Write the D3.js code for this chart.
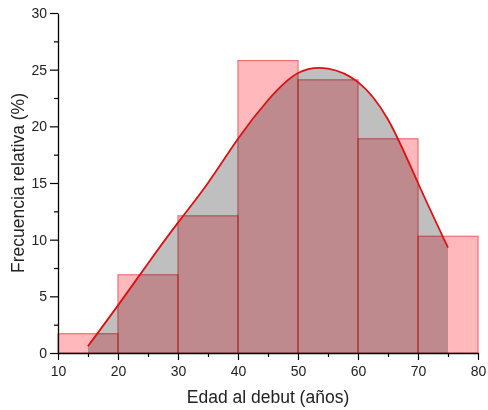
<!DOCTYPE html>
<html>
<head>
    <meta charset="utf-8">
    <style>
        body { margin: 0; background: #fff; }
        svg { display: block; font-family: "Liberation Sans", Arial, sans-serif; }
        .axis .domain { stroke: #000; stroke-width: 1.3px; }
        .axis .tick line { stroke: #000; stroke-width: 1.2px; }
        .axis .tick text { font-size: 14px; fill: #222; }
        .axis-title { font-size: 17.5px; fill: #222; }
    </style>
</head>
<body>
<svg width="488" height="410"></svg>

<script src="https://d3js.org/d3.v7.min.js"></script>
<script>
    // histogram bins (age at onset, years) and relative frequency (%)
    let binStart = [10, 20, 30, 40, 50, 60, 70]
    let binEnd = [20, 30, 40, 50, 60, 70, 80]
    let freq = [1.7, 6.9, 12.1, 25.8, 24.1, 18.9, 10.3]

    // fitted curve
    let curveX = [15, 20, 25, 30, 35, 40, 45, 50, 55, 60, 65, 70, 75]
    let curveY = [0.6, 4.2, 7.9, 11.5, 15.0, 18.9, 22.3, 24.7, 25.1, 23.9, 20.6, 15.0, 9.3]

    let xTicks = [10, 20, 30, 40, 50, 60, 70, 80]
    let yTicks = [0, 5, 10, 15, 20, 25, 30]

    let margin = { top: 13, right: 10, bottom: 57, left: 58 }
    let width = 488, height = 410

    let svg = d3.select("svg")

    let x = d3.scaleLinear()
        .domain([10, 80])
        .range([margin.left, width - margin.right])

    let y = d3.scaleLinear()
        .domain([0, 30])
        .range([height - margin.bottom, margin.top])

    let bins = freq.map((v, i) => ({ x0: binStart[i], x1: binEnd[i], v: v }))
    let pts = curveX.map((d, i) => ({ x: d, y: curveY[i] }))

    // grey area under the curve
    let area = d3.area()
        .x(d => x(d.x))
        .y0(y(0))
        .y1(d => y(d.y))
        .curve(d3.curveNatural)

    svg.append("path")
        .datum(pts)
        .attr("fill", "#bfbfbf")
        .attr("d", area)

    // bars, blended over the grey
    svg.append("g")
        .attr("class", "bars")
        .selectAll("rect")
        .data(bins)
        .join("rect")
        .attr("x", d => x(d.x0))
        .attr("y", d => y(d.v))
        .attr("width", d => x(d.x1) - x(d.x0))
        .attr("height", d => y(0) - y(d.v))
        .attr("fill", "#ffb8bc")
        .attr("stroke", "#ee7075")
        .attr("stroke-width", 1.2)
        .style("mix-blend-mode", "multiply")

    let line = d3.line()
        .x(d => x(d.x))
        .y(d => y(d.y))
        .curve(d3.curveNatural)

    svg.append("path")
        .datum(pts)
        .attr("fill", "none")
        .attr("stroke", "#e01010")
        .attr("stroke-width", 1.8)
        .attr("d", line)

    // axes: minor ticks first, then major with labels
    let xMinor = d3.range(15, 80, 10)
    let yMinor = d3.range(2.5, 30, 5)

    svg.append("g")
        .attr("class", "axis")
        .attr("transform", `translate(0,${y(0)})`)
        .call(d3.axisBottom(x).tickValues(xMinor).tickSize(4).tickFormat(""))
        .call(g => g.select(".domain").remove())

    svg.append("g")
        .attr("class", "axis")
        .attr("transform", `translate(0,${y(0)})`)
        .call(d3.axisBottom(x).tickValues(xTicks).tickSize(7).tickSizeOuter(0).tickPadding(6))

    svg.append("g")
        .attr("class", "axis")
        .attr("transform", `translate(${x(10)},0)`)
        .call(d3.axisLeft(y).tickValues(yMinor).tickSize(4).tickFormat(""))
        .call(g => g.select(".domain").remove())

    svg.append("g")
        .attr("class", "axis")
        .attr("transform", `translate(${x(10)},0)`)
        .call(d3.axisLeft(y).tickValues(yTicks).tickSize(8).tickSizeOuter(0).tickPadding(3))

    svg.append("text")
        .attr("class", "axis-title")
        .attr("x", (x(10) + x(80)) / 2)
        .attr("y", 403)
        .attr("text-anchor", "middle")
        .text("Edad al debut (años)")

    svg.append("text")
        .attr("class", "axis-title")
        .attr("transform", `translate(24,${(y(0) + y(30)) / 2}) rotate(-90)`)
        .attr("text-anchor", "middle")
        .text("Frecuencia relativa (%)")
</script>
</body>
</html>
